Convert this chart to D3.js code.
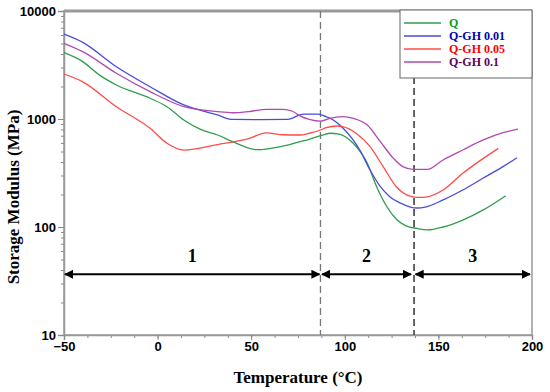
<!DOCTYPE html>
<html>
<head>
<meta charset="utf-8">
<script src="https://cdn.jsdelivr.net/npm/d3@7"></script>
<style>
html,body{margin:0;padding:0;background:#fff;}
svg{display:block;}
</style>
</head>
<body>
<svg id="chart" width="550" height="392"></svg>
<script>
// ---- data ----
const seriesNames = ["Q", "Q-GH 0.01", "Q-GH 0.05", "Q-GH 0.1"];
const tempQ   = [-50,-40,-31,-22,-4,5,14,23,32,40,53,67,76,81,87,92,97,104.5,112,117,122.5,128,133,138.5,144,152.5,163,174,186];
const modQ    = [4110,3400,2550,2065,1556,1300,979,800,711,617,520,562,617,649,700,738,726,596,389,236,154,116,102,97,94,100,116,144,195];
const tempGH001 = [-50,-40,-22,-4,14,32,40,55,69,78,86,90,92,99,108,113.5,119,124,129.5,135,138.5,143,152.5,163,174,184.5,192];
const modGH001  = [6100,5130,3050,1990,1350,1090,990,985,990,1110,1110,1050,1020,826,516,337,236,191,167,153,150,153,178,220,284,362,438];
const tempGH005 = [-50,-40,-22,-4,5,14,32,49,58,67,76,81,87,90,96,99,106,113.5,120.5,127.5,133,138.5,142,152.5,163,174,182];
const modGH005  = [2610,2210,1300,820,596,516,580,662,745,715,711,738,791,830,861,850,738,555,362,236,198,188,188,220,314,432,535];
const tempGH01 = [-50,-40,-22,-4,14,32,40,50,58,67,72,76,81,87,92,99,104.5,112,119,126,131,136.5,144,152.5,163,174,184.5,192.5];
const modGH01  = [5020,4200,2650,1790,1300,1170,1143,1180,1230,1230,1180,1070,993,955,1015,1050,1015,880,617,432,362,342,342,417,516,640,747,807];
const xTicks = [-50, 0, 50, 100, 150, 200];
const yTicks = [10, 100, 1000, 10000];
const regionBounds = [-50, 87, 137, 200];   // transition temperatures
const regionLabels = ["1", "2", "3"];
const arrowLevel = 36.5;
const labelLevel = 47;

// ---- styles ----
const lineColors = ["#2f9e4c", "#4b4bdc", "#ff4a4a", "#b04ab0"];
const textColors = ["#00a020", "#0000b0", "#ff0000", "#600060"];

const svg = d3.select("#chart");
const M = {l:64, r:532, t:11, b:335};
const x = d3.scaleLinear().domain([-50,200]).range([M.l, M.r]);
const y = d3.scaleLog().domain([10,10000]).range([M.b, M.t]);

const defs = svg.append("defs");
defs.append("marker").attr("id","ah").attr("viewBox","0 0 10 10").attr("refX",9).attr("refY",5)
  .attr("markerWidth",9).attr("markerHeight",9).attr("markerUnits","userSpaceOnUse").attr("orient","auto-start-reverse")
  .append("path").attr("d","M0,0 L10,5 L0,10 z").attr("fill","#000");

// frame
svg.append("rect").attr("x",M.l).attr("y",M.t).attr("width",M.r-M.l).attr("height",M.b-M.t)
  .attr("fill","none").attr("stroke","#999").attr("stroke-width",1.5);
svg.append("line").attr("x1",M.l).attr("x2",M.r).attr("y1",M.t).attr("y2",M.t).attr("stroke","#999").attr("stroke-width",3);

// axes
const minorY = [];
for (let d=10; d<10000; d*=10) for (let k=2;k<=9;k++) minorY.push(d*k);
svg.append("g").attr("transform",`translate(${M.l},0)`).call(d3.axisLeft(y).tickValues(minorY).tickFormat("").tickSize(3))
  .call(g=>g.select(".domain").remove()).selectAll("line").attr("stroke","#888");
const gy = svg.append("g").attr("transform",`translate(${M.l},0)`)
  .call(d3.axisLeft(y).tickValues(yTicks).tickFormat(d3.format("d")).tickSize(6).tickPadding(2));
const minorX = d3.range(-50, 200.1, 12.5);
svg.append("g").attr("transform",`translate(0,${M.b})`).call(d3.axisBottom(x).tickValues(minorX).tickFormat("").tickSize(3))
  .call(g=>g.select(".domain").remove()).selectAll("line").attr("stroke","#888");
const gx = svg.append("g").attr("transform",`translate(0,${M.b})`)
  .call(d3.axisBottom(x).tickValues(xTicks).tickFormat(d3.format("d")).tickSize(5).tickPadding(2));
[gx, gy].forEach(g=>{
  g.select(".domain").attr("stroke","#999").attr("stroke-width",1.5);
  g.selectAll(".tick line").attr("stroke","#888");
  g.selectAll("text").attr("font-family","'Liberation Sans', Arial, sans-serif").attr("font-weight","bold")
    .attr("font-size",13).attr("fill","#000");
});

// dashed transition lines
[regionBounds[1], regionBounds[2]].forEach((t,i)=>{
  svg.append("line").attr("x1",x(t)).attr("x2",x(t)).attr("y1",M.t).attr("y2",M.b)
    .attr("stroke", i===0 ? "#777" : "#555").attr("stroke-width", i===0 ? 1.3 : 1.8).attr("stroke-dasharray","7,4");
});

// curves
const temps = [tempQ, tempGH001, tempGH005, tempGH01];
const mods = [modQ, modGH001, modGH005, modGH01];
const line = d3.line().x(d=>x(d[0])).y(d=>y(d[1])).curve(d3.curveMonotoneX);
seriesNames.forEach((n,i)=>{
  const pts = temps[i].map((t,j)=>[t, mods[i][j]]);
  svg.append("path").datum(pts).attr("d",line).attr("fill","none")
    .attr("stroke",lineColors[i]).attr("stroke-width",1.3);
});

// region arrows
const gaps = [[1,1],[1.5,3],[1.5,2]];
for (let i=0;i<3;i++){
  const x1 = x(regionBounds[i]) + gaps[i][0], x2 = x(regionBounds[i+1]) - gaps[i][1];
  svg.append("line").attr("x1",x1).attr("x2",x2).attr("y1",y(arrowLevel)).attr("y2",y(arrowLevel))
    .attr("stroke","#000").attr("stroke-width",2)
    .attr("marker-start","url(#ah)").attr("marker-end","url(#ah)");
  svg.append("text").attr("x",(x1+x2)/2).attr("y",y(labelLevel)).attr("text-anchor","middle")
    .attr("font-family","'Liberation Serif', 'Times New Roman', serif").attr("font-weight","bold")
    .attr("font-size",18).attr("fill","#000").text(regionLabels[i]);
}

// legend
const L = {x:400, y:10, w:132, h:68};
svg.append("rect").attr("x",L.x).attr("y",L.y).attr("width",L.w).attr("height",L.h)
  .attr("fill","#fff").attr("stroke","#666").attr("stroke-width",1);
seriesNames.forEach((n,i)=>{
  const yy = 23 + i*13;
  svg.append("line").attr("x1",404).attr("x2",441).attr("y1",yy).attr("y2",yy)
    .attr("stroke",lineColors[i]).attr("stroke-width",1.5);
  svg.append("text").attr("x",449).attr("y",yy+4)
    .attr("font-family","'Liberation Serif', 'Times New Roman', serif").attr("font-weight","bold")
    .attr("font-size",12).attr("fill",textColors[i]).text(n);
});

// axis titles
svg.append("text").attr("x",(M.l+M.r)/2).attr("y",383).attr("text-anchor","middle")
  .attr("font-family","'Liberation Serif', 'Times New Roman', serif").attr("font-weight","bold")
  .attr("font-size",17).attr("fill","#000").text("Temperature (°C)");
svg.append("text").attr("transform","translate(19,197) rotate(-90)").attr("text-anchor","middle")
  .attr("font-family","'Liberation Serif', 'Times New Roman', serif").attr("font-weight","bold")
  .attr("font-size",17).attr("fill","#000").text("Storage Modulus (MPa)");
</script>
</body>
</html>
